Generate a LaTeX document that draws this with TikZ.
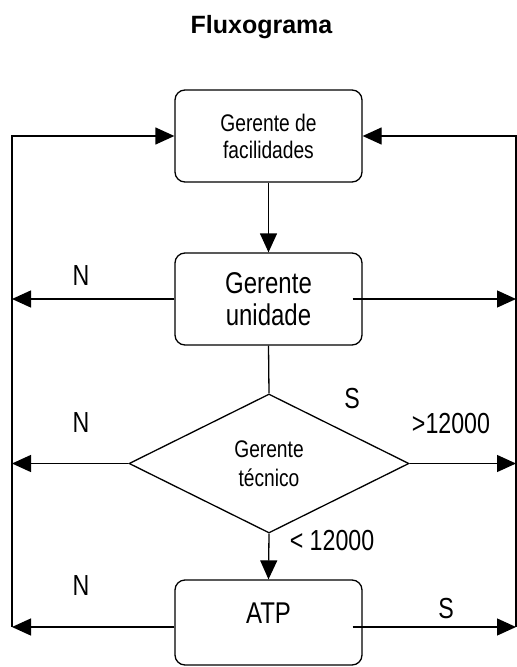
\documentclass[tikz,border=0pt]{standalone}
\usepackage{fontspec}
\setmainfont{Liberation Sans}
\newfontfamily\nfont{Liberation Sans}[FakeStretch=0.8]
\usetikzlibrary{arrows.meta,shapes.geometric}
\begin{document}
\begin{tikzpicture}[x=1bp,y=-1bp, line width=1.3bp,
  tip/.style={-{Triangle[length=19bp,width=17bp]}},
  box/.style={draw, rounded corners=10bp, minimum width=187bp, minimum height=92bp, inner sep=0pt, align=center},
  lbl/.style={anchor=base, font=\nfont\fontsize{29bp}{29bp}\selectfont, inner sep=0pt},
]
\useasboundingbox (0,0) rectangle (517,667);
\node[anchor=base, font=\bfseries\fontsize{25bp}{30bp}\selectfont, inner sep=0pt] (title) at (261.5,34) {Fluxograma};
\node[box, font=\nfont\fontsize{24bp}{27bp}\selectfont] (b1) at (268.5,136) {Gerente de\\facilidades};
\node[box, font=\nfont\fontsize{30bp}{32bp}\selectfont] (b2) at (268.5,299) {Gerente\\unidade};
\node[draw, diamond, minimum width=280bp, minimum height=139bp, inner sep=0pt, aspect=2, align=center,
      font=\nfont\fontsize{24bp}{29bp}\selectfont] (d) at (269,463.5) {Gerente\\técnico};
\node[box, minimum height=85bp] (atp) at (268.5,622.5) {};
\node[anchor=base, font=\nfont\fontsize{30bp}{30bp}\selectfont, inner sep=0pt] (atptext) at (268.5,623) {ATP};

\coordinate (lt) at (12,136);
\coordinate (lb) at (12,627);
\coordinate (rt) at (516,136);
\coordinate (rb) at (516,627);

\draw[tip] (b1) -- (b2);
\draw (b2.south) -- (d.north);
\draw[tip] (d.south) -- (atp.north);

\draw[tip] (lb) -- (lt) -- (b1.west);
\draw[tip] (rb) -- (rt) -- (b1.east);

\draw[tip] (b2.west) -- (b2.west -| lt);
\draw[tip] ([xshift=-10bp]b2.east) -- (b2.east -| rt);
\draw[tip] (d.west) -- (d.west -| lt);
\draw[tip] (d.east) -- (d.east -| rt);
\draw[tip] (atp.west |- lb) -- (lb);
\draw[tip] ([xshift=-10bp]atp.east |- rb) -- (rb);

\node[lbl] (n1) at (81,285) {N};
\node[lbl] (n2) at (81,432) {N};
\node[lbl] (n3) at (81,595) {N};
\node[lbl] (s1) at (352,408) {S};
\node[lbl] (gt) at (451,433) {>12000};
\node[lbl] (lt12) at (332,550) {< 12000};
\node[lbl] (s2) at (446,618) {S};
\end{tikzpicture}
\end{document}
